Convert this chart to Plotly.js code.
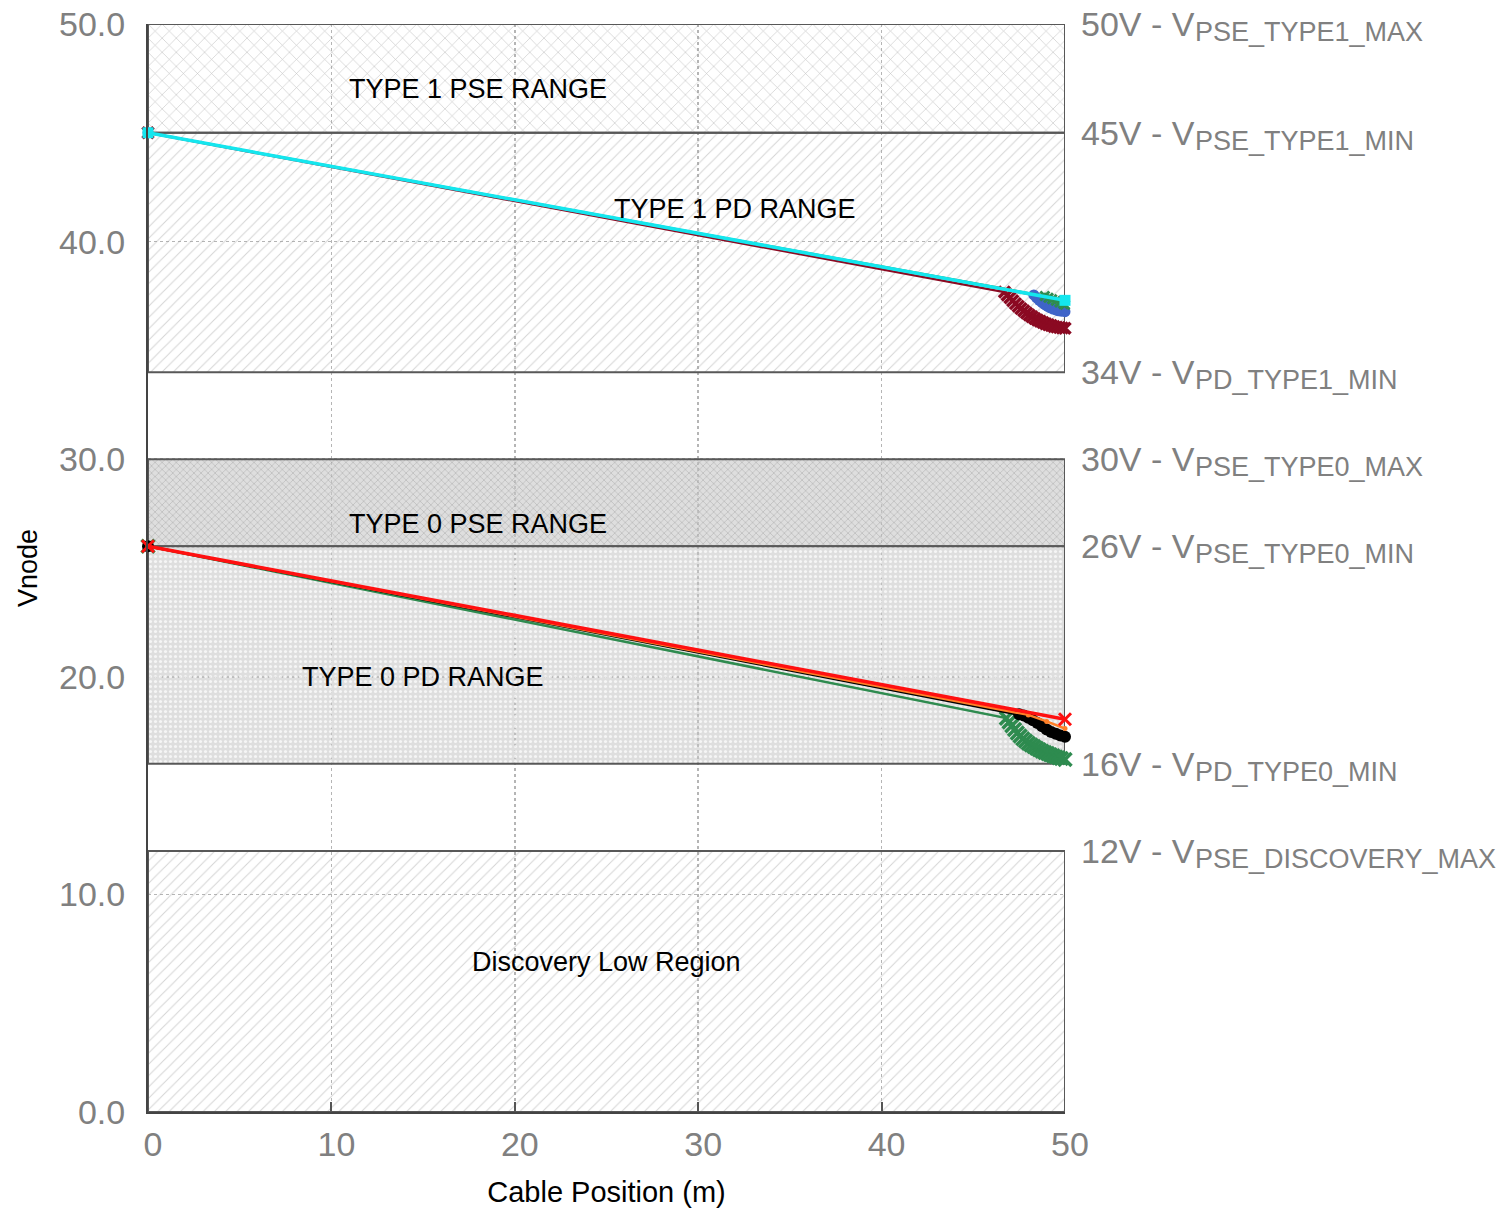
<!DOCTYPE html>
<html>
<head>
<meta charset="utf-8">
<script src="https://cdn.plot.ly/plotly-3.0.1.min.js"></script>
<style>
  html, body { margin: 0; padding: 0; background: #ffffff; }
  #chart { width: 1508px; height: 1212px; }
</style>
</head>
<body>
<div id="chart"></div>
<script>
// ---------------- data ----------------
const cableMin = 0;
const cableMax = 50;

// shaded regions (voltage bands)
const bandNames = ['TYPE 1 PSE RANGE', 'TYPE 1 PD RANGE', 'TYPE 0 PSE RANGE', 'TYPE 0 PD RANGE', 'Discovery Low Region'];
const bandLow  = [45, 34, 26, 16, 0];
const bandHigh = [50, 45, 30, 26, 12];

// right-hand threshold labels
const limitValues = [50, 45, 34, 30, 26, 16, 12];
const limitNames  = ['PSE_TYPE1_MAX', 'PSE_TYPE1_MIN', 'PD_TYPE1_MIN', 'PSE_TYPE0_MAX', 'PSE_TYPE0_MIN', 'PD_TYPE0_MIN', 'PSE_DISCOVERY_MAX'];

// axis ticks
const xTickVals = [0, 10, 20, 30, 40, 50];
const yTickVals = [0, 10, 20, 30, 40, 50];

// Type 1 node voltage series
const t1OrangeX = [0, 47, 48, 49, 50];
const t1OrangeY = [45, 37.75, 37.6, 37.42, 37.2];
const t1MaroonX = [0, 46.7, 46.85, 47.0, 47.15, 47.3, 47.45, 47.6, 47.75, 47.9, 48.05, 48.2, 48.35, 48.5, 48.65, 48.8, 48.95, 49.1, 49.25, 49.4, 49.55, 49.7, 49.85, 50];
const t1MaroonY = [45, 37.68, 37.55, 37.42, 37.28, 37.15, 37.03, 36.92, 36.82, 36.72, 36.63, 36.55, 36.47, 36.4, 36.34, 36.28, 36.23, 36.18, 36.14, 36.1, 36.07, 36.05, 36.03, 36.02];
const t1BlueX = [0, 48.3, 48.45, 48.6, 48.75, 48.9, 49.05, 49.2, 49.35, 49.5, 49.65, 49.8, 50];
const t1BlueY = [45, 37.55, 37.42, 37.3, 37.2, 37.1, 37.02, 36.96, 36.9, 36.86, 36.82, 36.8, 36.78];
const t1GreenX = [0, 48.9, 49.1, 49.3, 49.5, 49.7, 49.9, 50];
const t1GreenY = [45, 37.5, 37.42, 37.35, 37.28, 37.2, 37.14, 37.1];
const t1CyanX = [0, 50];
const t1CyanY = [45, 37.3];

// Type 0 node voltage series
const t0GreenX = [0, 46.8, 46.95, 47.1, 47.25, 47.4, 47.55, 47.7, 47.85, 48.0, 48.15, 48.3, 48.45, 48.6, 48.75, 48.9, 49.05, 49.2, 49.35, 49.5, 49.65, 49.8, 50];
const t0GreenY = [26, 18.1, 17.92, 17.75, 17.58, 17.42, 17.28, 17.15, 17.05, 16.95, 16.87, 16.8, 16.72, 16.65, 16.58, 16.52, 16.47, 16.42, 16.37, 16.32, 16.28, 16.25, 16.2];
const t0BlackX = [0, 47.5, 47.75, 48.0, 48.25, 48.5, 48.75, 49.0, 49.25, 49.5, 49.75, 50];
const t0BlackY = [26, 18.28, 18.22, 18.12, 18.0, 17.88, 17.73, 17.58, 17.46, 17.38, 17.3, 17.25];
const t0OrangeX = [0, 48, 49, 50];
const t0OrangeY = [26, 18.25, 17.95, 17.62];
const t0RedX = [0, 50];
const t0RedY = [26, 18.05];

// ---------------- styling ----------------
const FONT = 'Liberation Sans, Arial, sans-serif';
const bandStyles = [
  {shape: 'x', fg: 'rgba(150,150,150,0.55)', bg: 'rgba(255,255,255,0)', size: 10, sol: 0.12},
  {shape: '/', fg: 'rgba(160,160,160,0.45)', bg: 'rgba(255,255,255,0)', size: 8, sol: 0.12},
  {shape: 'x', fg: 'rgba(140,140,140,0.6)', bg: 'rgba(200,200,200,0.6)', size: 5, sol: 0.2},
  {shape: '.', fg: 'rgba(255,255,255,0.7)', bg: 'rgba(195,195,195,0.55)', size: 5, sol: 0.3},
  {shape: '/', fg: 'rgba(160,160,160,0.45)', bg: 'rgba(255,255,255,0)', size: 8, sol: 0.12}
];
const labelPos = [[18, 47], [32, 41.5], [18, 27], [15, 20], [25, 6.9]];

const traces = [];
bandNames.forEach((name, i) => {
  const s = bandStyles[i];
  traces.push({
    type: 'scatter', mode: 'lines',
    x: [cableMin, cableMax, cableMax, cableMin, cableMin],
    y: [bandLow[i], bandLow[i], bandHigh[i], bandHigh[i], bandLow[i]],
    fill: 'toself',
    fillcolor: 'rgba(0,0,0,0)',
    fillpattern: {shape: s.shape, fgcolor: s.fg, bgcolor: s.bg, size: s.size, solidity: s.sol},
    line: {color: '#585858', width: 2},
    hoverinfo: 'skip', showlegend: false
  });
});

function series(x, y, color, width, symbol, msize, lw) {
  const isX = symbol.indexOf('x') === 0;
  const m = isX
    ? {symbol: symbol, size: msize, color: color, line: {color: color, width: lw || 3}}
    : {symbol: symbol, size: msize, color: color, line: {width: 0}};
  return {
    type: 'scatter', mode: 'lines+markers', x: x, y: y,
    line: {color: color, width: width}, marker: m,
    cliponaxis: false, showlegend: false, hoverinfo: 'x+y'
  };
}

traces.push(series(t1MaroonX, t1MaroonY, '#8b0a22', 2.5, 'x-thin', 11, 3.5));
traces.push(series(t1OrangeX, t1OrangeY, '#ff7f27', 1.5, 'circle', 3));
traces.push(series(t1BlueX, t1BlueY, '#3f64c8', 2, 'circle', 11));
traces.push(series(t1GreenX, t1GreenY, '#2e8b4f', 2, 'x-thin', 9, 3));
traces.push(series(t1CyanX, t1CyanY, '#14e6ee', 3.5, 'square', 11));

traces.push(series(t0GreenX, t0GreenY, '#2e8b4f', 2.5, 'x-thin', 13, 3.5));
traces.push(series(t0BlackX, t0BlackY, '#000000', 2.5, 'circle', 12));
traces.push(series(t0OrangeX, t0OrangeY, '#ff7f27', 2.5, 'circle', 5));
traces.push(series(t0RedX, t0RedY, '#ff1010', 3.5, 'x-thin', 12, 3));

const annotations = [];
bandNames.forEach((name, i) => {
  annotations.push({
    x: labelPos[i][0], y: labelPos[i][1], xref: 'x', yref: 'y',
    text: name, showarrow: false,
    font: {family: FONT, size: 27, color: '#000000'},
    xanchor: 'center', yanchor: 'middle'
  });
});
limitValues.forEach((v, i) => {
  annotations.push({
    x: 1, xref: 'paper', y: v, yref: 'y', xshift: 14, yshift: 0,
    text: v + 'V - V',
    showarrow: false, xanchor: 'left', yanchor: 'middle', align: 'left',
    font: {family: FONT, size: 34, color: '#808080'}
  });
  annotations.push({
    x: 1, xref: 'paper', y: v, yref: 'y', xshift: 128, yshift: -8,
    text: limitNames[i],
    showarrow: false, xanchor: 'left', yanchor: 'middle', align: 'left',
    font: {family: FONT, size: 27, color: '#808080'}
  });
});

const layout = {
  width: 1508, height: 1212,
  paper_bgcolor: '#ffffff', plot_bgcolor: '#ffffff',
  margin: {l: 148, r: 443, t: 24, b: 100, pad: 0},
  showlegend: false,
  xaxis: {
    range: [cableMin, cableMax], tickvals: xTickVals, ticktext: xTickVals.map(String),
    showgrid: true, gridcolor: '#b5b5b5', griddash: 'dot', gridwidth: 1.5,
    zeroline: false, showline: true, linecolor: '#444444', linewidth: 2,
    ticks: 'inside', ticklen: 10, tickcolor: '#555555', tickwidth: 2,
    tickfont: {family: FONT, size: 34, color: '#808080'},
    ticklabelstandoff: 1, ticklabelshift: 5,
    title: {text: 'Cable Position (m)', font: {family: FONT, size: 29, color: '#000000'}, standoff: 20}
  },
  yaxis: {
    range: [0, 50], tickvals: yTickVals, ticktext: yTickVals.map(v => v.toFixed(1)),
    showgrid: true, gridcolor: '#b5b5b5', griddash: 'dot', gridwidth: 1.5,
    zeroline: false, showline: true, linecolor: '#444444', linewidth: 2,
    ticks: '',
    tickfont: {family: FONT, size: 34, color: '#808080'},
    ticklabelstandoff: 14,
    title: {text: 'Vnode', font: {family: FONT, size: 27, color: '#000000'}, standoff: 14}
  },
  annotations: annotations
};

Plotly.newPlot('chart', traces, layout, {displayModeBar: false, staticPlot: true});
</script>
</body>
</html>
